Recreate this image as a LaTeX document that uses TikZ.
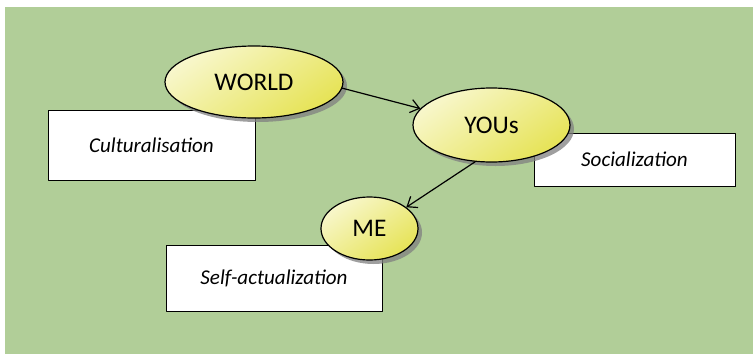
\documentclass[tikz,border=0pt]{standalone}
\usepackage{fontspec}
\setmainfont{Carlito}
\usetikzlibrary{shapes.geometric,shadows,arrows.meta}
\definecolor{bggreen}{HTML}{B1CE98}
\definecolor{ovaldark}{HTML}{E6E356}
\definecolor{ovallight}{HTML}{F8F7CC}
\begin{document}
\begin{tikzpicture}[x=0.75pt,y=-0.75pt,line join=round,line cap=round,>={Straight Barb[length=6.5pt,width=10pt]}]
	\tikzset{oval/.style={ellipse,draw=black,line width=0.9pt,top color=ovallight,bottom color=ovaldark,shading angle=35,
			drop shadow={shadow xshift=3pt,shadow yshift=-3pt,fill=black!50,opacity=0.75},
			inner sep=0pt,font=\fontsize{19}{21}\selectfont},
		labelbox/.style={rectangle,draw=black,line width=0.6pt,fill=white,
			drop shadow={shadow xshift=0.8pt,shadow yshift=-0.8pt,fill=black!70,opacity=1},
			inner sep=0pt,font=\fontsize{15.8}{18}\selectfont\itshape}}
	\useasboundingbox (0,0) rectangle (753,354);
	\fill[bggreen] (5,7) rectangle (753,354);
	% text boxes
	\node[labelbox,minimum width=155.25pt,minimum height=52.5pt] (cult) at (151.5,145) {Culturalisation};
	\node[labelbox,minimum width=150.75pt,minimum height=39.75pt] (social) at (634.5,159.5) {Socialization};
	\node[labelbox,minimum width=162pt,minimum height=49.5pt] (selfact) at (274,278) {Self-actualization};
	% ovals
	\node[oval,minimum width=133.5pt,minimum height=54pt] (world) at (254,82) {WORLD};
	\node[oval,minimum width=117.75pt,minimum height=55.5pt] (yous) at (491.5,125) {YOUs};
	\node[oval,minimum width=72.75pt,minimum height=47.25pt] (me) at (369.5,228.5) {ME};
	% arrows
	\draw[->,line width=0.9pt] (world.-4)--(yous.167);
	\draw[->,line width=0.9pt] (yous.-114)--(me.30);
\end{tikzpicture}
\end{document}
